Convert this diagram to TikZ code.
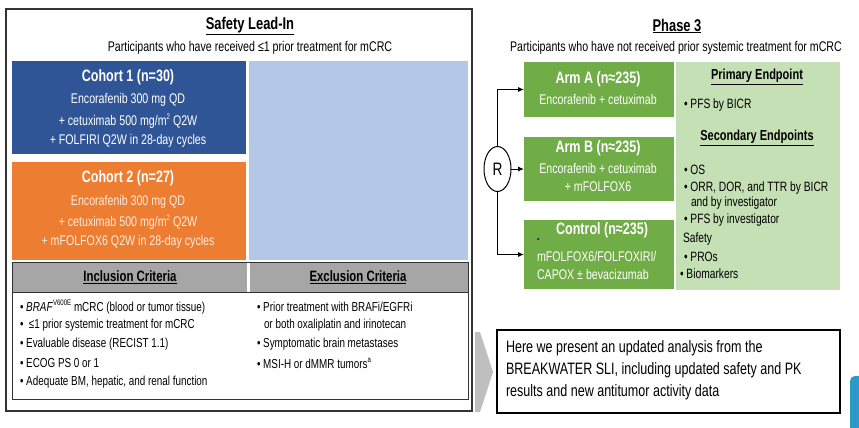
\documentclass[tikz,border=0pt]{standalone}
\usepackage{fontspec}
\setmainfont{Liberation Sans}[FakeStretch=0.76]
\usetikzlibrary{arrows.meta,shapes.geometric}
\definecolor{cblue}{HTML}{2F5597}
\definecolor{corange}{HTML}{ED7D31}
\definecolor{clblue}{HTML}{B4C7E7}
\definecolor{cgray}{HTML}{A6A6A6}
\definecolor{cgreen}{HTML}{70AD47}
\definecolor{clgreen}{HTML}{C5E0B4}
\definecolor{cchev}{HTML}{BFBFBF}
\definecolor{ctab}{HTML}{2B9AC8}
\newcommand\mysup[1]{\raisebox{0.45em}{\fontsize{8}{8}\selectfont #1}}
\begin{document}
\begin{tikzpicture}[x=1pt,y=-1pt,
  every node/.style={inner sep=0pt,outer sep=0pt},
  boxr/.style={anchor=north west,draw=none},
  ttl/.style={font=\bfseries\fontsize{17}{20}\selectfont},
  subt/.style={font=\fontsize{14}{16}\selectfont},
  cohh/.style={text=white,font=\bfseries\fontsize{16.5}{19}\selectfont},
  cohb/.style={text=white,font=\fontsize{14}{16}\selectfont},
  cohbo/.style={text=white!85!corange,font=\fontsize{14}{16}\selectfont},
  crith/.style={font=\bfseries\fontsize{15}{18}\selectfont},
  crit/.style={anchor=west,font=\fontsize{13}{15}\selectfont},
  armh/.style={text=white,font=\bfseries\fontsize{16.5}{19}\selectfont},
  armb/.style={text=white,font=\fontsize{14}{16}\selectfont},
  eph/.style={font=\bfseries\fontsize{14.5}{17}\selectfont},
  ept/.style={anchor=west,font=\fontsize{13.5}{16}\selectfont},
  note/.style={anchor=west,font=\fontsize{16.5}{20}\selectfont},
  conn/.style={draw=black,line width=1pt,-{Latex[length=6pt,width=5pt]}}
]
\useasboundingbox (0,0) rectangle (859,428);
\fill[white] (0,0) rectangle (859,428);

% ---------- Safety Lead-In ----------
\draw[black!80,line width=1.2pt] (6,9) rectangle (472,411);
\node[ttl] (sli) at (250,26) {\underline{Safety Lead-In}};
\node[subt] (slisub) at (250,48) {Participants who have received ≤1 prior treatment for mCRC};

\node[boxr,fill=cblue,minimum width=234pt,minimum height=93pt] (c1) at (12,61) {};
\node[cohh] (c1h) at (128,77) {Cohort 1 (n=30)};
\node[cohb] (c1a) at (128,100) {Encorafenib 300 mg QD};
\node[cohb] (c1b) at (128,121) {+ cetuximab 500 mg/m\mysup{2} Q2W};
\node[cohb] (c1c) at (128,141) {+ FOLFIRI Q2W in 28-day cycles};

\node[boxr,fill=corange,minimum width=234pt,minimum height=98pt] (c2) at (12,162) {};
\node[cohh] (c2h) at (128,178) {Cohort 2 (n=27)};
\node[cohbo] (c2a) at (128,202) {Encorafenib 300 mg QD};
\node[cohbo] (c2b) at (128,222) {+ cetuximab 500 mg/m\mysup{2} Q2W};
\node[cohbo] (c2c) at (128,242) {+ mFOLFOX6 Q2W in 28-day cycles};

\node[boxr,fill=clblue,minimum width=219pt,minimum height=199pt] (lb) at (249,61) {};

% criteria
\node[boxr,fill=cgray,minimum width=235pt,minimum height=30pt] (inh) at (12,262) {};
\node[boxr,fill=cgray,minimum width=218pt,minimum height=30pt] (exh) at (250,262) {};
\draw[black!80,line width=1pt] (12,262) rectangle (468,399);
\draw[black!80,line width=1pt] (12,292) -- (468,292);
\node[crith] (inct) at (130,277) {\underline{Inclusion Criteria}};
\node[crith] (exct) at (358,277) {\underline{Exclusion Criteria}};

\node[crit] (i1) at (20,307) {• \textit{BRAF}\mysup{V600E} mCRC (blood or tumor tissue)};
\node[crit] (i2) at (20,325) {•\ \ ≤1 prior systemic treatment for mCRC};
\node[crit] (i3) at (20,344) {• Evaluable disease (RECIST 1.1)};
\node[crit] (i4) at (20,363) {• ECOG PS 0 or 1};
\node[crit] (i5) at (20,382) {• Adequate BM, hepatic, and renal function};

\node[crit] (e1) at (257,307) {• Prior treatment with BRAFi/EGFRi};
\node[crit] (e1b) at (264,325) {or both oxaliplatin and irinotecan};
\node[crit] (e2) at (257,344) {• Symptomatic brain metastases};
\node[crit] (e3) at (257,363) {• MSI-H or dMMR tumors\mysup{a}};

% ---------- Phase 3 ----------
\node[ttl] (ph3) at (677,26) {\underline{Phase 3}};
\node[subt] (ph3sub) at (676,48) {Participants who have not received prior systemic treatment for mCRC};

\node[boxr,fill=cgreen,minimum width=150pt,minimum height=55pt] (armA) at (524,62) {};
\node[armh] (armAh) at (598,79) {Arm A (n≈235)};
\node[armb] (armAb) at (598,99) {Encorafenib + cetuximab};

\node[boxr,fill=cgreen,minimum width=150pt,minimum height=64pt] (armB) at (524,137) {};
\node[armh] (armBh) at (598,148) {Arm B (n≈235)};
\node[armb] (armBb) at (598,168) {Encorafenib + cetuximab};
\node[armb] (armBc) at (598,187) {+ mFOLFOX6};

\node[boxr,fill=cgreen,minimum width=150pt,minimum height=69pt] (ctrl) at (524,220) {};
\node[armh] (ctrlh) at (602,230) {Control (n≈235)};
\node[fill=black,circle,minimum size=2pt] (dot) at (538,239) {};
\node[armb,anchor=west] (ctrla) at (537,256) {mFOLFOX6/FOLFOXIRI/};
\node[armb,anchor=west] (ctrlb) at (537,274) {CAPOX ± bevacizumab};

\node[boxr,fill=clgreen,minimum width=164pt,minimum height=228pt] (ep) at (676,62) {};
\node[eph] (eph1) at (757,77) {\underline{Primary Endpoint}};
\node[ept] (ep1) at (684,105) {• PFS by BICR};
\node[eph] (eph2) at (757,138) {\underline{Secondary Endpoints}};
\node[ept] (ep2) at (684,170) {• OS};
\node[ept] (ep3) at (684,188) {• ORR, DOR, and TTR by BICR};
\node[ept] (ep3b) at (691,203) {and by investigator};
\node[ept] (ep4) at (684,220) {• PFS by investigator};
\node[ept] (ep5) at (683,239) {Safety};
\node[ept] (ep6) at (684,257) {• PROs};
\node[ept] (ep7) at (680,274) {• Biomarkers};

\node[draw=black,line width=1pt,ellipse,minimum width=27pt,minimum height=45pt,font=\fontsize{18}{20}\selectfont] (R) at (497.5,169) {R};
\draw[conn] (R.north) |- (armA.west);
\draw[conn] (R.east) -- (R.east -| armB.west);
\draw[conn] (R.south) |- (ctrl.west);

% ---------- bottom note ----------
\fill[cchev] (475,332) -- (480,332) -- (493,372) -- (480,412) -- (475,412) -- cycle;
\node[boxr,draw=black,line width=2pt,minimum width=343pt,minimum height=83pt] (nb) at (497,330) {};
\node[note] (n1) at (506,348) {Here we present an updated analysis from the};
\node[note] (n2) at (506,370) {BREAKWATER SLI, including updated safety and PK};
\node[note] (n3) at (506,392) {results and new antitumor activity data};

\fill[ctab,rounded corners=5pt] (850,376) rectangle (875,440);
\end{tikzpicture}
\end{document}
